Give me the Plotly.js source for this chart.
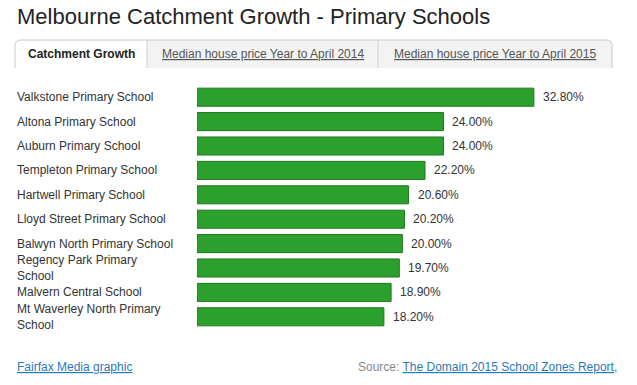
<!DOCTYPE html>
<html>
<head>
<meta charset="utf-8">
<script src="https://cdn.plot.ly/plotly-3.0.1.min.js"></script>
<style>html,body{margin:0;padding:0;background:#fff;}#chart{width:637px;height:385px;}</style>
</head>
<body>
<div id="chart"></div>
<script>
var schools = [
  "Valkstone Primary School",
  "Altona Primary School",
  "Auburn Primary School",
  "Templeton Primary School",
  "Hartwell Primary School",
  "Lloyd Street Primary School",
  "Balwyn North Primary School",
  "Regency Park Primary<br>School",
  "Malvern Central School",
  "Mt Waverley North Primary<br>School"
];
var growth = [32.8, 24.0, 24.0, 22.2, 20.6, 20.2, 20.0, 19.7, 18.9, 18.2];
var tabLabels = ["Catchment Growth", "Median house price Year to April 2014", "Median house price Year to April 2015"];
var chartTitle = "Melbourne Catchment Growth - Primary Schools";
var creditText = "Fairfax Media graphic";
var sourceLabel = "Source: ";
var sourceLink = "The Domain 2015 School Zones Report,";

var W = 637, H = 385;
var M = {l: 197, r: 29, t: 85, b: 56};
var PW = W - M.l - M.r, PH = H - M.t - M.b;
function px(x) { return (x - M.l) / PW; }
function py(y) { return (H - M.b - y) / PH; }

var FONT = "Arial, 'Liberation Sans', sans-serif";

var trace = {
  type: "bar",
  orientation: "h",
  y: schools,
  x: growth,
  marker: {color: "#2ca02c", line: {color: "#1d7a1d", width: 1}},
  width: 0.74,
  hoverinfo: "none"
};

var annotations = [];
annotations.push({xref: "paper", yref: "paper", x: px(17), y: py(17), xanchor: "left", yanchor: "middle", xshift: -2,
  text: chartTitle, showarrow: false, font: {family: FONT, size: 22, color: "#222"}});
schools.forEach(function (s) {
  annotations.push({xref: "paper", yref: "y", x: px(17), y: s, xanchor: "left", yanchor: "middle", align: "left", xshift: -2,
    text: s, showarrow: false, font: {family: FONT, size: 12, color: "#333"}});
});
growth.forEach(function (v, i) {
  annotations.push({xref: "x", yref: "y", x: v, y: schools[i], xanchor: "left", yanchor: "middle", xshift: 7,
    text: v.toFixed(2) + "%", showarrow: false, font: {family: FONT, size: 12, color: "#333"}});
});
var tabEdges = [15, 147, 378, 612];
var tabTop = 40, tabBot = 68;
var shapes = [];
for (var i = 0; i < 3; i++) {
  var x0 = tabEdges[i], x1 = tabEdges[i + 1];
  shapes.push({type: "rect", xref: "paper", yref: "paper", x0: px(x0), x1: px(x1), y0: py(tabBot), y1: py(tabTop),
    fillcolor: i === 0 ? "#ffffff" : "#f3f3f3", line: {width: 0}, layer: "below"});
  var cx = (x0 + x1) / 2;
  var txt = i === 0 ? "<b>" + tabLabels[i] + "</b>" : "<u>" + tabLabels[i] + "</u>";
  annotations.push({xref: "paper", yref: "paper", x: px(cx), y: py(54), xanchor: "center", yanchor: "middle",
    text: txt, showarrow: false, font: {family: FONT, size: 12, color: i === 0 ? "#222" : "#555"}});
}
var r = 6;
var pathStr = "M " + px(tabEdges[0]) + "," + py(tabBot) +
  " L " + px(tabEdges[0]) + "," + py(tabTop + r) +
  " Q " + px(tabEdges[0]) + "," + py(tabTop) + " " + px(tabEdges[0] + r) + "," + py(tabTop) +
  " L " + px(tabEdges[3] - r) + "," + py(tabTop) +
  " Q " + px(tabEdges[3]) + "," + py(tabTop) + " " + px(tabEdges[3]) + "," + py(tabTop + r) +
  " L " + px(tabEdges[3]) + "," + py(tabBot);
shapes.push({type: "path", xref: "paper", yref: "paper", path: pathStr, line: {color: "#c8c8c8", width: 1}});
shapes.push({type: "line", xref: "paper", yref: "paper", x0: px(147), x1: px(147), y0: py(tabBot), y1: py(tabTop),
  line: {color: "#d0d0d0", width: 1}});
shapes.push({type: "line", xref: "paper", yref: "paper", x0: px(378), x1: px(378), y0: py(tabBot), y1: py(tabTop),
  line: {color: "#d0d0d0", width: 1}});

annotations.push({xref: "paper", yref: "paper", x: px(17), y: py(367), xanchor: "left", yanchor: "middle", xshift: -2,
  text: "<u>" + creditText + "</u>", showarrow: false, font: {family: FONT, size: 12, color: "#2a7ab8"}});
annotations.push({xref: "paper", yref: "paper", x: px(358), y: py(367), xanchor: "left", yanchor: "middle", xshift: -2,
  text: "<span style='color:#888'>" + sourceLabel + "</span><u>" + sourceLink + "</u>",
  showarrow: false, font: {family: FONT, size: 12, color: "#2a7ab8"}});

var layout = {
  width: W, height: H,
  margin: M,
  paper_bgcolor: "#fff", plot_bgcolor: "#fff",
  showlegend: false,
  xaxis: {range: [0, PW / 10.27], visible: false, fixedrange: true},
  yaxis: {type: "category", range: [schools.length - 0.5, -0.5], showticklabels: false, showgrid: false, zeroline: false,
    showline: false, ticks: "", fixedrange: true},
  annotations: annotations,
  shapes: shapes
};

Plotly.newPlot("chart", [trace], layout, {displayModeBar: false, staticPlot: true});
</script>
</body>
</html>
